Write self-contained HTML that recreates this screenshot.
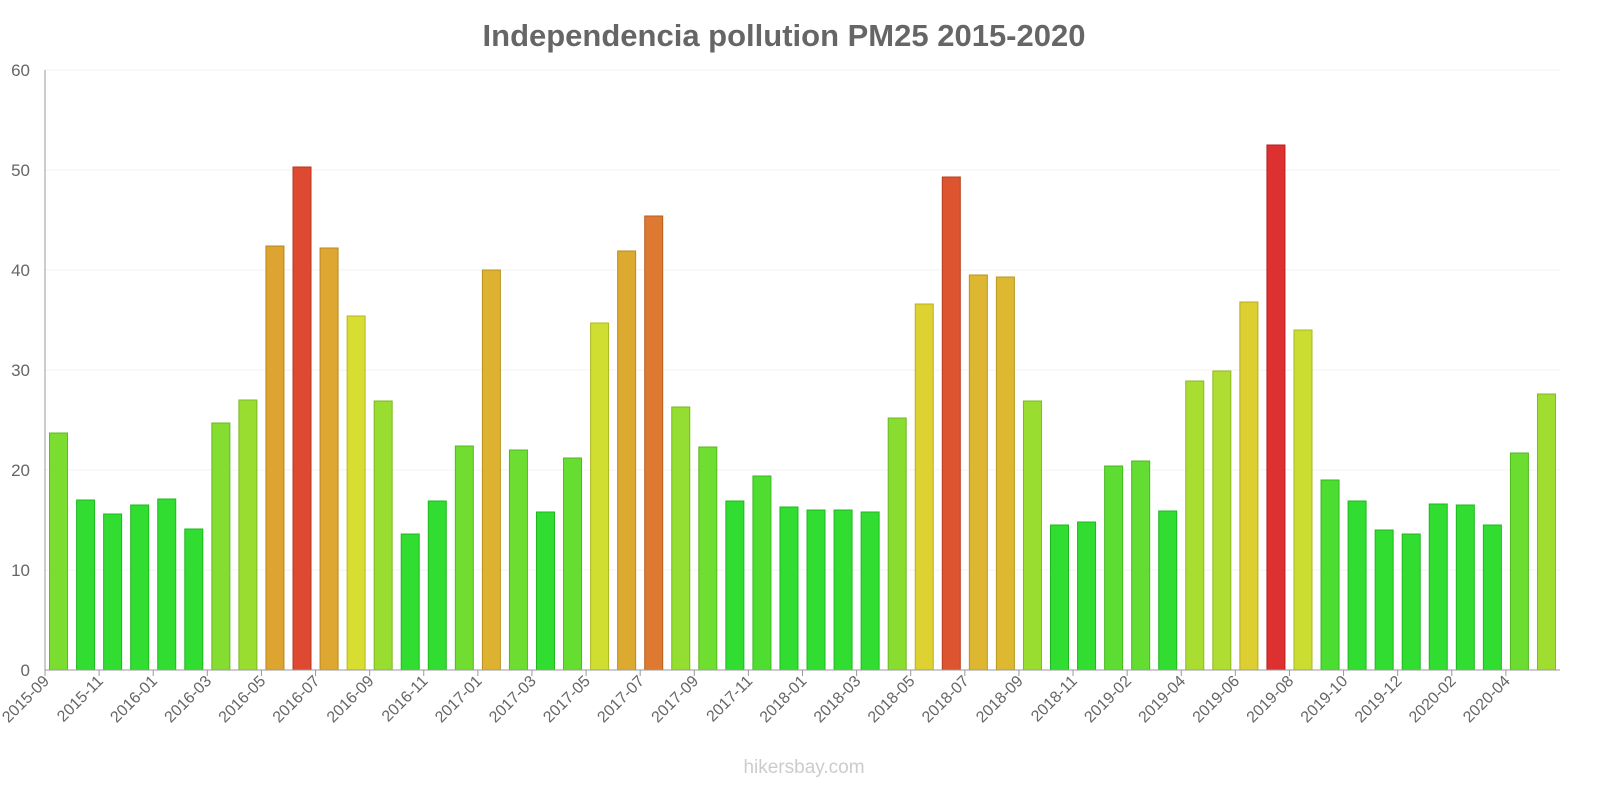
<!DOCTYPE html>
<html><head><meta charset="utf-8"><style>
body{margin:0;background:#fff;}
svg{display:block;font-family:"Liberation Sans",sans-serif;}
</style></head><body>
<svg id="chart" width="1600" height="800">
<text x="784" y="46" text-anchor="middle" font-size="31" font-weight="bold" fill="#666">Independencia pollution PM25 2015-2020</text>
<g id="grid"></g><g id="bars"></g><g id="axes"></g>
<text x="804" y="773" text-anchor="middle" font-size="19" fill="#ccc">hikersbay.com</text>
</svg>
<script>
const categories=["2015-09","2015-10","2015-11","2015-12","2016-01","2016-02","2016-03","2016-04","2016-05","2016-06","2016-07","2016-08","2016-09","2016-10","2016-11","2016-12","2017-01","2017-02","2017-03","2017-04","2017-05","2017-06","2017-07","2017-08","2017-09","2017-10","2017-11","2017-12","2018-01","2018-02","2018-03","2018-04","2018-05","2018-06","2018-07","2018-08","2018-09","2018-10","2018-11","2018-12","2019-02","2019-03","2019-04","2019-05","2019-06","2019-07","2019-08","2019-09","2019-10","2019-11","2019-12","2020-01","2020-02","2020-03","2020-04","2020-05"];
const values=[23.7,17.0,15.6,16.5,17.1,14.1,24.7,27.0,42.4,50.3,42.2,35.4,26.9,13.6,16.9,22.4,40.0,22.0,15.8,21.2,34.7,41.9,45.4,26.3,22.3,16.9,19.4,16.3,16.0,16.0,15.8,25.2,36.6,49.3,39.5,39.3,26.9,14.5,14.8,20.4,20.9,15.9,28.9,29.9,36.8,52.5,34.0,19.0,16.9,14.0,13.6,16.6,16.5,14.5,21.7,27.6];
const yTicks=[0,10,20,30,40,50,60];
const NS="http://www.w3.org/2000/svg";
const X0=45,X1=1560,Y0=670,Y1=70,YMAX=60;
const bw=(X1-X0)/categories.length;
const xs=i=>X0+bw*(i+0.5);
const ys=v=>Y0-(v/YMAX)*(Y0-Y1);
function mk(t,a,p){const e=document.createElementNS(NS,t);for(const k in a)e.setAttribute(k,a[k]);p.appendChild(e);return e;}
function hue(v){const pts=[[17,120],[21,102],[25,90],[28,80],[35,64],[37,54],[40,45],[42,42],[46,22],[50,10],[52.5,0]];
 if(v<=pts[0][0])return 120;for(let i=1;i<pts.length;i++){if(v<=pts[i][0]){const[a,ha]=pts[i-1],[b,hb]=pts[i];return ha+(hb-ha)*(v-a)/(b-a);}}return 0;}
const grid=document.getElementById('grid'),bars=document.getElementById('bars'),axes=document.getElementById('axes');
yTicks.forEach(t=>{
 const l=mk('line',{x1:X0,x2:X1,y1:ys(t),y2:ys(t),stroke:'#f3f3f3'},grid);
 
 
 const tx=mk('text',{x:X0-15,y:ys(t)+6,'text-anchor':'end','font-size':17,fill:'#666'},axes);
 tx.textContent=t;
 
 
});
values.forEach((v,i)=>{
 const h=hue(v);
 const r=mk('rect',{x:xs(i)-9,y:ys(v),width:18,height:Y0-ys(v),fill:`hsl(${h},72%,53%)`,stroke:`hsl(${h},72%,42%)`,'stroke-width':1},bars);
 
 
});
mk('line',{x1:X0,x2:X0,y1:Y1,y2:Y0,stroke:'#999'},axes);
mk('line',{x1:X0,x2:X1,y1:Y0,y2:Y0,stroke:'#999'},axes);
categories.forEach((c,i)=>{
 if(i%2)return;
 const x=xs(i)-bw/2;
 mk('line',{x1:x,x2:x,y1:Y0,y2:Y0+6,stroke:'#999'},axes);
 const t=mk('text',{x:x+5,y:Y0+12,'text-anchor':'end','font-size':16,fill:'#666',transform:`rotate(-45 ${x+5} ${Y0+12})`},axes);
 t.textContent=c;
 
 
});
</script>
</body></html>
